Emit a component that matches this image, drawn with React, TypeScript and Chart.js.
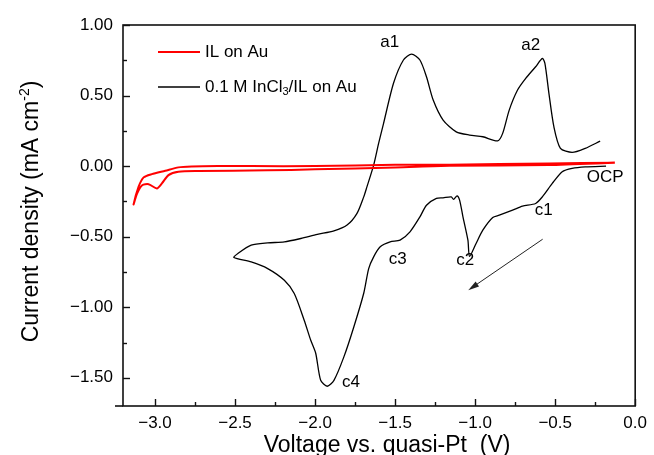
import { useEffect, useRef } from 'react';
import { Chart, registerables } from 'chart.js';

Chart.register(...registerables);

// IL on Au (red) : voltage (V) and current density (mA cm-2)
const ilVoltage = [-0.127, -0.54, -1.16, -1.5, -2.0, -2.4, -2.606, -2.771, -2.854, -2.936, -3.020, -3.071, -3.103, -3.134,
  -3.112, -3.080, -3.040, -2.988, -2.957, -2.916, -2.854, -2.730, -2.3, -2.0, -1.5, -1.16, -0.54, -0.127];
const ilCurrent = [0.024, 0.019, 0.010, 0.010, 0.000, 0.000, 0.000, -0.003, -0.009, -0.033, -0.057, -0.080, -0.147, -0.272,
  -0.194, -0.135, -0.128, -0.158, -0.123, -0.064, -0.040, -0.035, -0.030, -0.023, -0.010, 0.002, 0.008, 0.024];

// 0.1 M InCl3/IL on Au (black)
const inVoltage = [-0.182, -0.312, -0.394, -0.456, -0.518, -0.580, -0.622, -0.704, -0.766, -0.849, -0.890, -0.952, -0.994,
  -1.035, -1.045, -1.076, -1.097, -1.113, -1.135, -1.149, -1.200, -1.242, -1.304, -1.345, -1.407, -1.469, -1.531, -1.593,
  -1.634, -1.665, -1.696, -1.758, -1.820, -1.882, -1.924, -1.965, -1.996, -2.027, -2.068, -2.130, -2.192, -2.296, -2.399,
  -2.507,
  -2.482, -2.399, -2.296, -2.192, -2.089, -1.986, -1.882, -1.800, -1.738, -1.696, -1.676, -1.634, -1.603, -1.572, -1.510,
  -1.448, -1.397, -1.345, -1.304, -1.262, -1.200, -1.118, -1.035, -0.952, -0.859, -0.828, -0.787, -0.735, -0.684, -0.622,
  -0.580, -0.564, -0.539, -0.508, -0.467, -0.394, -0.312, -0.219];
const inCurrent = [0.000, -0.005, -0.016, -0.040, -0.123, -0.218, -0.265, -0.284, -0.312, -0.348, -0.364, -0.454, -0.548,
  -0.640, -0.525, -0.360, -0.241, -0.211, -0.236, -0.218, -0.225, -0.229, -0.277, -0.360, -0.466, -0.525, -0.537, -0.572,
  -0.643, -0.726, -0.901, -1.140, -1.352, -1.518, -1.560, -1.518, -1.326, -1.234, -1.092, -0.903, -0.809, -0.726, -0.679,
  -0.648,
  -0.619, -0.560, -0.544, -0.537, -0.513, -0.484, -0.459, -0.418, -0.335, -0.218, -0.147, 0.007, 0.161, 0.303, 0.587,
  0.752, 0.794, 0.752, 0.633, 0.468, 0.326, 0.243, 0.220, 0.208, 0.179, 0.232, 0.397, 0.539, 0.622, 0.704,
  0.764, 0.728, 0.516, 0.279, 0.126, 0.097, 0.126, 0.177];

// Axis ticks (majors every 0.5 are labelled, minors in between)
const xTickValues = [-3.0, -2.75, -2.5, -2.25, -2.0, -1.75, -1.5, -1.25, -1.0, -0.75, -0.5, -0.25, 0.0];
const yTickValues = [-1.5, -1.25, -1.0, -0.75, -0.5, -0.25, 0.0, 0.25, 0.5, 0.75, 1.0];

// Peak annotations (data coordinates)
const peakLabels = ['a1', 'a2', 'c1', 'c2', 'c3', 'c4', 'OCP'];
const peakLabelV = [-1.533, -0.653, -0.572, -1.062, -1.484, -1.775, -0.188];
const peakLabelI = [0.879, 0.858, -0.312, -0.667, -0.660, -1.532, -0.078];

// Scan direction arrow (from -> to, data coordinates)
const arrowV = [-0.578, -1.043];
const arrowI = [-0.518, -0.879];

const legendLabels = ['IL on Au', '0.1 M InCl3/IL on Au'];
const xTitle = 'Voltage vs. quasi-Pt  (V)';
const yTitle = 'Current density (mA cm';

const FONT = '"Liberation Sans", Arial, sans-serif';

function fmt(v: number, dec: number) {
  if (Math.abs(v * 2 - Math.round(v * 2)) > 1e-6) return '';
  const s = Math.abs(v).toFixed(dec);
  return (v < -1e-9 ? '\u2212' : '') + s;
}

const decor = {
  id: 'decor',
  afterDatasetsDraw(chart: any) {
    const { ctx, chartArea: a, scales } = chart;
    const x = scales.x;
    const y = scales.y;
    ctx.save();
    ctx.strokeStyle = '#111';
    ctx.lineWidth = 1.6;
    ctx.strokeRect(a.left, a.top, a.right - a.left, a.bottom - a.top);
    ctx.beginPath();
    ctx.moveTo(a.left - 8, a.bottom);
    ctx.lineTo(a.left, a.bottom);
    ctx.stroke();

    ctx.lineWidth = 1.4;
    x.ticks.forEach((t: any) => {
      const px = Math.round(x.getPixelForValue(t.value)) + 0.5;
      const len = t.label ? 7 : 4;
      ctx.beginPath();
      ctx.moveTo(px, a.bottom);
      ctx.lineTo(px, a.bottom - len);
      ctx.stroke();
    });
    y.ticks.forEach((t: any) => {
      const py = Math.round(y.getPixelForValue(t.value)) + 0.5;
      const len = t.label ? 7 : 4;
      ctx.beginPath();
      ctx.moveTo(a.left, py);
      ctx.lineTo(a.left + len, py);
      ctx.stroke();
    });

    // peak labels
    ctx.fillStyle = '#000';
    ctx.font = `17px ${FONT}`;
    ctx.textAlign = 'center';
    ctx.textBaseline = 'middle';
    peakLabels.forEach((lab, i) => {
      ctx.fillText(lab, x.getPixelForValue(peakLabelV[i]), y.getPixelForValue(peakLabelI[i]));
    });

    // arrow
    const x1 = x.getPixelForValue(arrowV[0]);
    const y1 = y.getPixelForValue(arrowI[0]);
    const x2 = x.getPixelForValue(arrowV[1]);
    const y2 = y.getPixelForValue(arrowI[1]);
    const ang = Math.atan2(y2 - y1, x2 - x1);
    ctx.strokeStyle = '#222';
    ctx.lineWidth = 1;
    ctx.beginPath();
    ctx.moveTo(x1, y1);
    ctx.lineTo(x2 - 6 * Math.cos(ang), y2 - 6 * Math.sin(ang));
    ctx.stroke();
    ctx.fillStyle = '#222';
    ctx.beginPath();
    ctx.moveTo(x2, y2);
    ctx.lineTo(x2 - 11 * Math.cos(ang) + 3 * Math.sin(ang), y2 - 11 * Math.sin(ang) - 3 * Math.cos(ang));
    ctx.lineTo(x2 - 11 * Math.cos(ang) - 3 * Math.sin(ang), y2 - 11 * Math.sin(ang) + 3 * Math.cos(ang));
    ctx.closePath();
    ctx.fill();

    // legend
    const lx = a.left + 35;
    const ly = [a.top + 27, a.top + 62];
    const colors = ['#ff0000', '#000000'];
    const widths = [2, 1.3];
    ctx.textAlign = 'left';
    ctx.textBaseline = 'middle';
    legendLabels.forEach((lab, i) => {
      ctx.strokeStyle = colors[i];
      ctx.lineWidth = widths[i];
      ctx.beginPath();
      ctx.moveTo(lx, ly[i]);
      ctx.lineTo(lx + 42, ly[i]);
      ctx.stroke();
      ctx.fillStyle = '#000';
      let tx = lx + 47;
      const idx = lab.indexOf('InCl3');
      if (idx >= 0) {
        const p1 = lab.slice(0, idx + 4);
        const p3 = lab.slice(idx + 5);
        ctx.font = `17px ${FONT}`;
        ctx.fillText(p1, tx, ly[i]);
        tx += ctx.measureText(p1).width;
        ctx.font = `11px ${FONT}`;
        ctx.fillText('3', tx, ly[i] + 5);
        tx += ctx.measureText('3').width;
        ctx.font = `17px ${FONT}`;
        ctx.fillText(p3, tx, ly[i]);
      } else {
        ctx.font = `17px ${FONT}`;
        ctx.fillText(lab, tx, ly[i]);
      }
    });

    // x title
    ctx.font = `23px ${FONT}`;
    ctx.textAlign = 'center';
    ctx.textBaseline = 'alphabetic';
    ctx.fillText(xTitle, (a.left + a.right) / 2 + 8, 452);

    // y title (rotated, with superscript)
    ctx.translate(38, (a.top + a.bottom) / 2 - 4);
    ctx.rotate(-Math.PI / 2);
    ctx.textAlign = 'left';
    ctx.font = `23px ${FONT}`;
    const w1 = ctx.measureText(yTitle).width;
    ctx.font = `14px ${FONT}`;
    const w2 = ctx.measureText('-2').width;
    ctx.font = `23px ${FONT}`;
    const w3 = ctx.measureText(')').width;
    let sx = -(w1 + w2 + w3) / 2;
    ctx.fillText(yTitle, sx, 0);
    sx += w1;
    ctx.font = `14px ${FONT}`;
    ctx.fillText('-2', sx, -9);
    sx += w2;
    ctx.font = `23px ${FONT}`;
    ctx.fillText(')', sx, 0);
    ctx.restore();
  },
};

export default function App() {
  const ref = useRef<HTMLCanvasElement | null>(null);
  useEffect(() => {
    if (!ref.current) return;
    const chart = new Chart(ref.current, {
      type: 'line',
      data: {
        datasets: [
          {
            label: legendLabels[0],
            data: ilVoltage.map((v, i) => ({ x: v, y: ilCurrent[i] })),
            borderColor: '#ff0000',
            borderWidth: 2,
            pointRadius: 0,
            tension: 0.25,
            fill: false,
          },
          {
            label: legendLabels[1],
            data: inVoltage.map((v, i) => ({ x: v, y: inCurrent[i] })),
            borderColor: '#000000',
            borderWidth: 1.3,
            pointRadius: 0,
            tension: 0.25,
            fill: false,
          },
        ],
      },
      options: {
        animation: false,
        responsive: true,
        maintainAspectRatio: false,
        layout: { padding: { top: 25, right: 14, bottom: 0, left: 0 } },
        plugins: { legend: { display: false }, tooltip: { enabled: false } },
        scales: {
          x: {
            type: 'linear',
            min: -3.2,
            max: 0,
            afterBuildTicks: (s: any) => {
              s.ticks = xTickValues.map((v) => ({ value: v }));
            },
            afterFit: (s: any) => {
              s.height = 49;
            },
            grid: { display: false, drawTicks: false },
            border: { display: false },
            ticks: {
              autoSkip: false,
              maxRotation: 0,
              padding: 7,
              color: '#000',
              font: { family: FONT, size: 17 },
              callback: (v: any) => fmt(Number(v), 1),
            },
          },
          y: {
            type: 'linear',
            min: -1.7,
            max: 1.0,
            afterBuildTicks: (s: any) => {
              s.ticks = yTickValues.map((v) => ({ value: v }));
            },
            afterFit: (s: any) => {
              s.width = 123;
            },
            grid: { display: false, drawTicks: false },
            border: { display: false },
            ticks: {
              autoSkip: false,
              padding: 10,
              color: '#000',
              font: { family: FONT, size: 17 },
              callback: (v: any) => fmt(Number(v), 2),
            },
          },
        },
      },
      plugins: [decor],
    });
    return () => chart.destroy();
  }, []);
  return (
    <div style={{ position: 'fixed', left: 0, top: 0, width: 654, height: 455, background: '#fff' }}>
      <canvas ref={ref} />
    </div>
  );
}
